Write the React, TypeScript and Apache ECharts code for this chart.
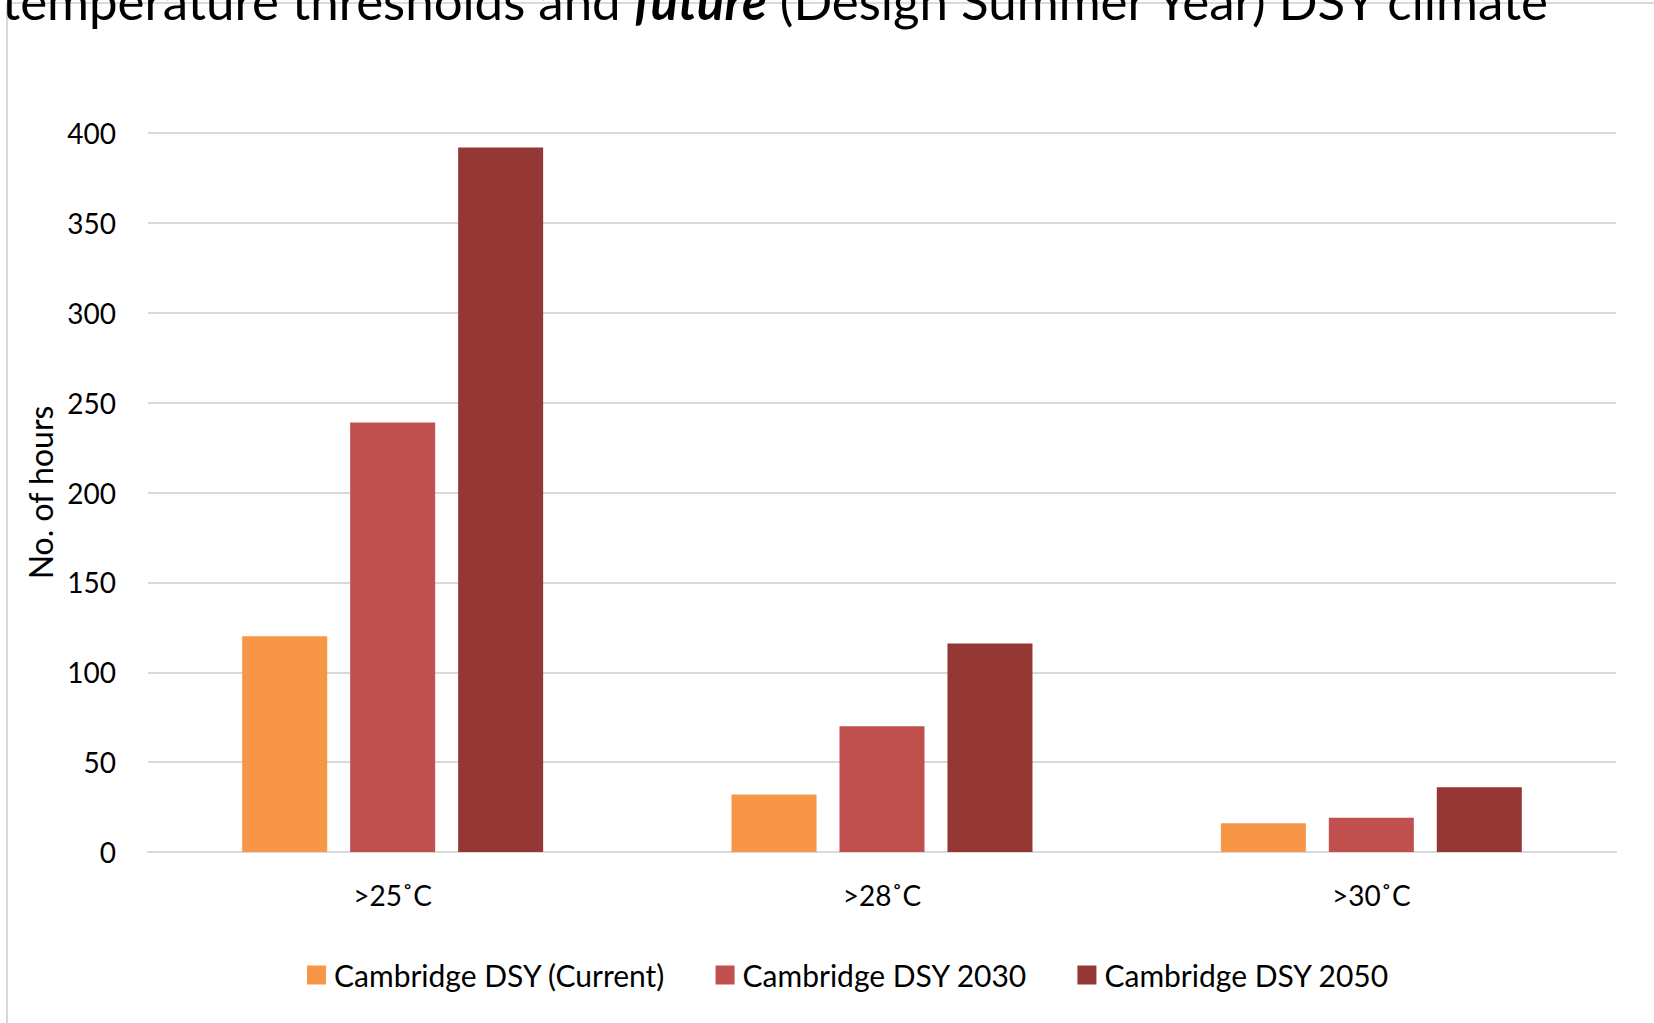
import React, { useEffect, useRef } from "react";
import * as echarts from "echarts";

const categories = [">25˚C", ">28˚C", ">30˚C"];
const seriesNames = ["Cambridge DSY (Current)", "Cambridge DSY 2030", "Cambridge DSY 2050"];
const currentValues = [120, 32, 16];
const dsy2030Values = [239, 70, 19];
const dsy2050Values = [392, 116, 36];
const colors = ["#F79646", "#C0504D", "#953735"];
const yTicks = { min: 0, max: 400, interval: 50 };

const FONT = "Lato, 'Open Sans', sans-serif";

export default function App() {
  const ref = useRef<HTMLDivElement>(null);
  useEffect(() => {
    document.body.style.margin = "0";
    const chart = echarts.init(ref.current!, null, { renderer: "svg" });
    const values = [currentValues, dsy2030Values, dsy2050Values];
    chart.setOption({
      animation: false,
      backgroundColor: "#ffffff",
      textStyle: { fontFamily: FONT },
      graphic: [
        {
          type: "line",
          shape: { x1: 7, y1: 3, x2: 1654, y2: 3 },
          style: { stroke: "#d9d9d9", lineWidth: 2 },
        },
        {
          type: "line",
          shape: { x1: 7, y1: 3, x2: 7, y2: 1023 },
          style: { stroke: "#d9d9d9", lineWidth: 2 },
        },
        {
          type: "text",
          x: 2,
          y: 0,
          style: {
            text: "{n|temperature thresholds and }{b|future}{n| (Design Summer Year) DSY climate}",
            verticalAlign: "middle",
            rich: {
              n: { fontSize: 51, fontFamily: FONT, fill: "#000" },
              b: { fontSize: 51, fontFamily: FONT, fontWeight: "bold", fontStyle: "italic", fill: "#000" },
            },
          },
        },
      ],
      legend: {
        bottom: 28,
        left: 302,
        itemWidth: 19,
        itemHeight: 19,
        itemGap: 50,
        icon: "rect",
        textStyle: { fontSize: 30, color: "#000", fontFamily: FONT, padding: [0, 0, 0, 3] },
        data: seriesNames,
      },
      grid: { left: 148, right: 38, top: 133, bottom: 171 },
      xAxis: {
        type: "category",
        data: categories,
        axisLine: { show: true, lineStyle: { color: "#d9d9d9", width: 2 } },
        axisTick: { show: false },
        axisLabel: { fontSize: 28, color: "#000", margin: 29, fontFamily: FONT },
      },
      yAxis: {
        type: "value",
        min: yTicks.min,
        max: yTicks.max,
        interval: yTicks.interval,
        name: "No. of hours",
        nameLocation: "middle",
        nameGap: 92,
        nameRotate: 90,
        nameTextStyle: { fontSize: 32, color: "#000", fontFamily: FONT },
        axisLine: { show: false },
        axisTick: { show: false },
        axisLabel: { fontSize: 28, color: "#000", margin: 32, fontFamily: FONT },
        splitLine: { lineStyle: { color: "#d9d9d9", width: 2 } },
      },
      series: seriesNames.map((name, i) => ({
        name,
        type: "bar",
        data: values[i],
        barGap: "27%",
        barCategoryGap: "38.5%",
        itemStyle: { color: colors[i] },
      })),
    });
    return () => chart.dispose();
  }, []);
  return <div ref={ref} style={{ width: 1654, height: 1023 }} />;
}
